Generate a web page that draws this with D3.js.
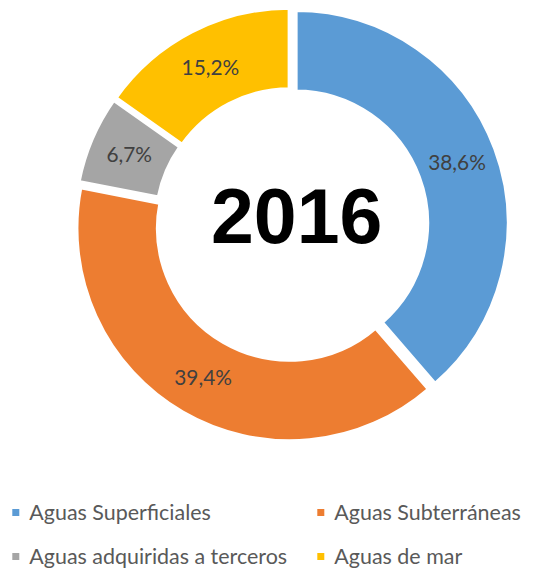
<!DOCTYPE html>
<html><head><meta charset="utf-8">
<script src="https://cdn.jsdelivr.net/npm/d3@7"></script>
<style>html,body{margin:0;padding:0;background:#fff;}svg{display:block;}</style>
</head><body>
<svg id="c" width="540" height="572"></svg>
<script>
const categories = ["Aguas Superficiales", "Aguas Subterráneas", "Aguas adquiridas a terceros", "Aguas de mar"];
const values = [38.6, 39.4, 6.7, 15.2];
const colors = ["#5B9BD5", "#ED7D31", "#A5A5A5", "#FFC000"];
const centerTitle = "2016";

const svg = d3.select("#c");
const cx = 291.6, cy = 224.5;
const outerR = 213, innerR = 131.5, explode = 4.3;
const FONT = "Lato, 'Open Sans', sans-serif";

const pie = d3.pie().sort(null).value(d => d.v);
const arcs = pie(categories.map((c, i) => ({c, v: values[i], col: colors[i]})));
const arc = d3.arc().innerRadius(innerR).outerRadius(outerR);
const labelArc = d3.arc().innerRadius(133.5).outerRadius(211);

// fit a font size so that a sample string has the target width
function fitSize(sample, target, weight) {
  const t = svg.append("text").attr("font-family", FONT).attr("font-size", 20)
    .attr("font-weight", weight || "normal").text(sample);
  const w = t.node().getComputedTextLength();
  t.remove();
  return 20 * target / w;
}
const labelSize = fitSize("38,6%", 57.7);
const legendSize = fitSize("Aguas adquiridas a terceros", 258);

const g = svg.append("g").attr("transform", `translate(${cx},${cy})`);
const slice = g.selectAll("g.s").data(arcs).join("g").attr("class", "s")
  .attr("transform", d => {
    const a = (d.startAngle + d.endAngle) / 2;
    return `translate(${explode * Math.sin(a)},${-explode * Math.cos(a)})`;
  });
slice.append("path").attr("d", arc).attr("fill", d => d.data.col)
  .attr("stroke", "#fff").attr("stroke-width", 4).attr("stroke-linejoin", "miter");
slice.append("text")
  .attr("transform", d => `translate(${labelArc.centroid(d)})`)
  .attr("text-anchor", "middle").attr("dy", "0.35em")
  .attr("font-family", FONT).attr("font-size", labelSize)
  .attr("fill", "#404040")
  .text(d => d3.format(".1f")(d.data.v).replace(".", ",") + "%");

svg.append("text").attr("x", 296.7).attr("y", 243).attr("text-anchor", "middle")
  .attr("font-family", "'Liberation Sans', Arial, sans-serif").attr("font-weight", "bold")
  .attr("font-size", 77).attr("fill", "#000").text(centerTitle);

const legPos = [[12.3, 519.5], [317.3, 519.5], [12.3, 563.5], [317.3, 563.5]];
const leg = svg.append("g").selectAll("g").data(categories).join("g")
  .attr("transform", (d, i) => `translate(${legPos[i][0]},${legPos[i][1]})`);
leg.append("rect").attr("x", 0).attr("y", -10.5).attr("width", 7).attr("height", 7)
  .attr("fill", (d, i) => colors[i]);
leg.append("text").attr("x", 17).attr("y", 0)
  .attr("font-family", FONT).attr("font-size", legendSize)
  .attr("fill", "#595959").text(d => d);
</script>
</body></html>
